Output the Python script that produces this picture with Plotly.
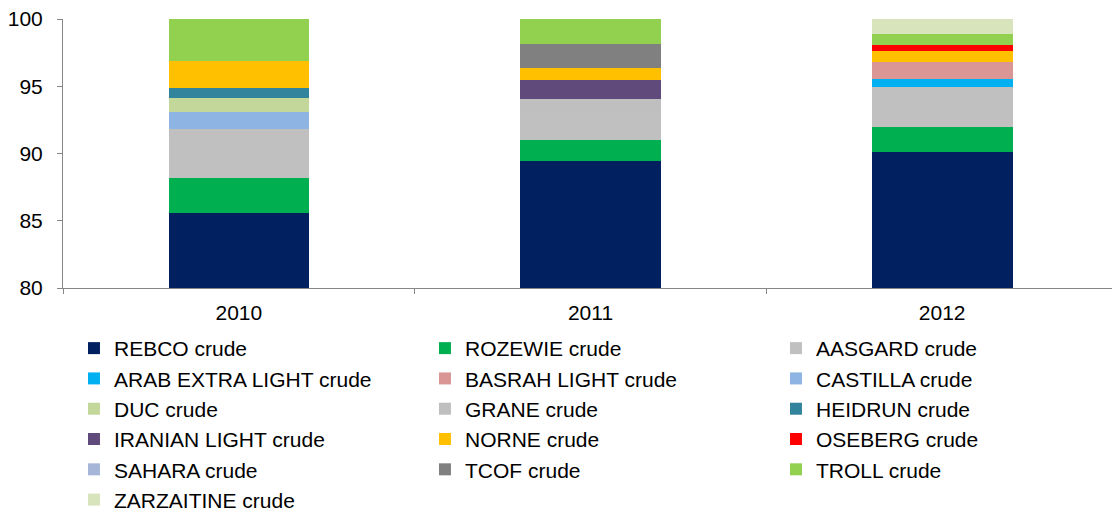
import plotly.graph_objects as go

years = ["2010", "2011", "2012"]

crudes = [
    "REBCO crude", "ROZEWIE crude", "AASGARD crude", "ARAB EXTRA LIGHT crude",
    "BASRAH LIGHT crude", "CASTILLA crude", "DUC crude", "GRANE crude",
    "HEIDRUN crude", "IRANIAN LIGHT crude", "NORNE crude", "OSEBERG crude",
    "SAHARA crude", "TCOF crude", "TROLL crude", "ZARZAITINE crude",
]

# share (%) per year: 2010, 2011, 2012
rebco = [85.55, 89.46, 90.13]
rozewie = [2.65, 1.57, 1.86]
aasgard = [3.62, 2.00, 2.95]
arab_extra_light = [0, 0, 0.60]
basrah_light = [0, 0, 1.29]
castilla = [1.27, 0, 0]
duc = [1.06, 0, 0]
grane = [0, 1.04, 0]
heidrun = [0.72, 0, 0]
iranian_light = [0, 1.37, 0]
norne = [2.01, 0.94, 0.79]
oseberg = [0, 0, 0.47]
sahara = [0, 0, 0]
tcof = [0, 1.74, 0]
troll = [3.12, 1.88, 0.82]
zarzaitine = [0, 0, 1.09]

values = [rebco, rozewie, aasgard, arab_extra_light, basrah_light, castilla, duc,
          grane, heidrun, iranian_light, norne, oseberg, sahara, tcof, troll, zarzaitine]

colors = ["#002060", "#00B050", "#C0C0C0", "#00B0F0", "#DA9694", "#8DB4E2",
          "#C4D79B", "#BFBFBF", "#31849B", "#604A7B", "#FFC000", "#FF0000",
          "#A6B6D8", "#808080", "#92D050", "#D8E4BC"]

fig = go.Figure()
for name, vals, col in zip(crudes, values, colors):
    fig.add_trace(go.Bar(x=years, y=vals, name=name, marker=dict(color=col, line=dict(width=0))))

# page body has an 8px default margin, so the figure is sized to fit the window
fig.update_layout(
    barmode="stack",
    bargap=0.6,
    width=1112, height=504,
    plot_bgcolor="white", paper_bgcolor="white",
    font=dict(family="Liberation Sans, Arial", size=21, color="#000000"),
    margin=dict(l=55, r=2, t=11, b=224, autoexpand=False),
    legend=dict(
        orientation="h", x=0.0104, y=-0.1486, xanchor="left", yanchor="top",
        entrywidth=306, entrywidthmode="pixels", traceorder="normal",
        font=dict(size=21), itemclick=False,
    ),
    xaxis=dict(
        showline=True, linecolor="#868686", linewidth=1,
        ticks="outside", tickson="boundaries", ticklen=5, tickcolor="#868686",
        showgrid=False, ticklabelstandoff=6,
    ),
    yaxis=dict(
        range=[80, 100], dtick=5, showline=True, linecolor="#868686", linewidth=1,
        ticks="outside", ticklen=5, tickcolor="#868686", showgrid=False, zeroline=False,
        ticklabelstandoff=10, ticklabeloverflow="allow",
    ),
)

fig.write_html("out.html")
